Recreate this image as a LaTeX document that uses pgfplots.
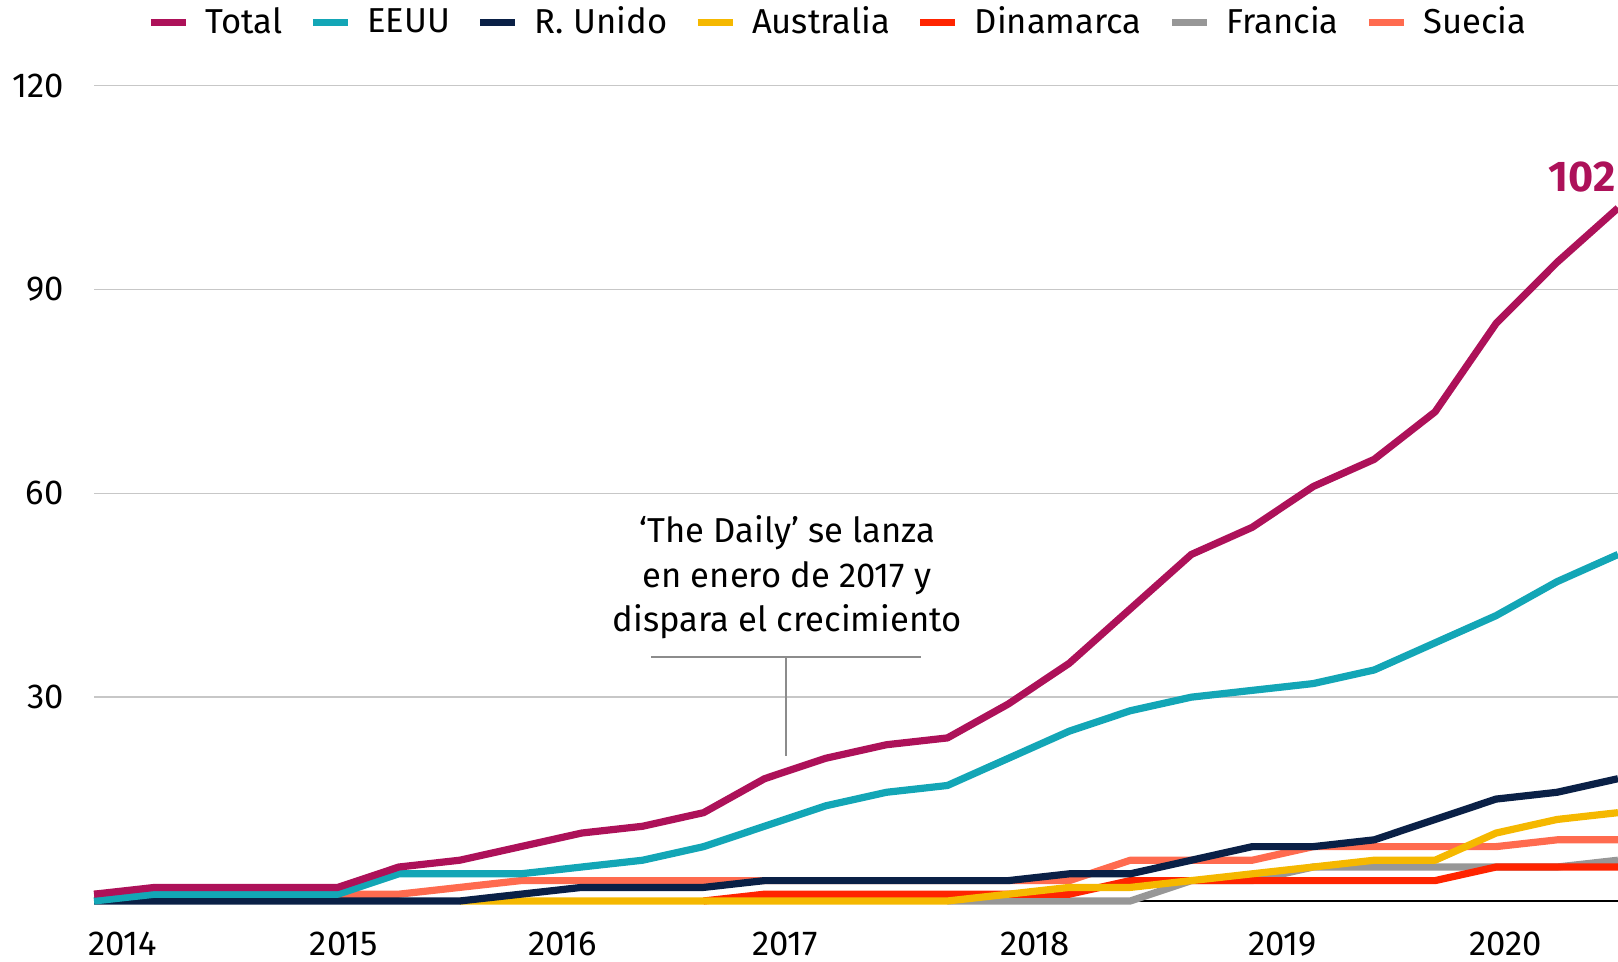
\documentclass[border=0pt]{standalone}
\usepackage{fontspec}
\setmainfont{Fira Sans}
\usepackage{pgfplots}
\pgfplotsset{compat=1.18}
\definecolor{cTotal}{HTML}{AD1159}
\definecolor{cUS}{HTML}{13A6B6}
\definecolor{cUK}{HTML}{0A2046}
\definecolor{cAU}{HTML}{F5B800}
\definecolor{cDK}{HTML}{FF2400}
\definecolor{cFR}{HTML}{979797}
\definecolor{cSE}{HTML}{FF6B4F}
\pgfplotstableread{
i Total EEUU RUnido Suecia
0 1 0 0 1
1 2 1 0 1
2 2 1 0 1
3 2 1 0 1
4 2 1 0 1
5 5 4 0 1
6 6 4 0 2
7 8 4 1 3
8 10 5 2 3
9 11 6 2 3
10 13 8 2 3
11 18 11 3 3
12 21 14 3 3
13 23 16 3 3
14 24 17 3 3
15 29 21 3 3
16 35 25 4 3
17 43 28 4 6
18 51 30 6 6
19 55 31 8 6
20 61 32 8 8
21 65 34 9 8
22 72 38 12 8
23 85 42 15 8
24 94 47 16 9
25 102 51 18 9
}\dataA
\pgfplotstableread{
i Australia
6 0
7 0
8 0
9 0
10 0
11 0
12 0
13 0
14 0
15 1
16 2
17 2
18 3
19 4
20 5
21 6
22 6
23 10
24 12
25 13
}\dataAU
\pgfplotstableread{
i Dinamarca
10 0
11 1
12 1
13 1
14 1
15 1
16 1
17 3
18 3
19 3
20 3
21 3
22 3
23 5
24 5
25 5
}\dataDK
\pgfplotstableread{
i Francia
14 0
15 0
16 0
17 0
18 3
19 3
20 5
21 5
22 5
23 5
24 5
25 6
}\dataFR
\begin{document}
\fontsize{17.3}{21}\selectfont
\begin{tikzpicture}
\useasboundingbox (0,0) rectangle (809pt,481pt);
\begin{axis}[
  at={(47pt,30.5pt)}, anchor=south west,
  scale only axis, width=762pt, height=407.65pt,
  xmin=0, xmax=25, ymin=0, ymax=120,
  clip=false,
  axis line style={draw=none},
  major tick length=0pt,
  ytick={30,60,90,120},
  ymajorgrids, grid style={color=black!22, line width=0.7pt},
  xtick={0.47,4.10,7.69,11.34,15.44,19.50,23.15},
  xticklabels={2014,2015,2016,2017,2018,2019,2020},
  /pgf/number format/assume math mode=true,
  tick label style={font=\fontsize{17.3}{21}\selectfont},
  yticklabel style={anchor=east, inner sep=0pt, xshift=-15pt},
  xticklabel style={anchor=base, inner sep=0pt, yshift=-27.2pt},
  legend columns=-1,
  legend image code/.code={\draw[#1, line width=3.5pt] (0pt,0pt) -- (17.5pt,0pt);},
  legend style={at={(0.4875,1.077)}, anchor=center, draw=none, fill=none,
    font=\fontsize{17.3}{21}\selectfont, inner sep=0pt,
    nodes={inner sep=0pt},
    /tikz/every odd column/.append style={column sep=8pt},
    /tikz/every even column/.append style={column sep=13.4pt}},
  every axis plot/.append style={line width=3.6pt, line join=round},
]
\addlegendimage{cTotal}\addlegendentry{Total}
\addlegendimage{cUS}\addlegendentry{EEUU}
\addlegendimage{cUK}\addlegendentry{R. Unido}
\addlegendimage{cAU}\addlegendentry{Australia}
\addlegendimage{cDK}\addlegendentry{Dinamarca}
\addlegendimage{cFR}\addlegendentry{Francia}
\addlegendimage{cSE}\addlegendentry{Suecia}
\draw[black, line width=0.9pt] (axis cs:0,0) -- (axis cs:25,0);
\addplot[cSE, forget plot] table[x=i, y=Suecia] {\dataA};
\addplot[cFR, forget plot] table[x=i, y=Francia] {\dataFR};
\addplot[cDK, forget plot] table[x=i, y=Dinamarca] {\dataDK};
\addplot[cAU, forget plot] table[x=i, y=Australia] {\dataAU};
\addplot[cUK, forget plot] table[x=i, y=RUnido] {\dataA};
\addplot[cUS, forget plot] table[x=i, y=EEUU] {\dataA};
\addplot[cTotal, forget plot] table[x=i, y=Total] {\dataA};
\draw[black!45, line width=0.9pt] (axis cs:9.14,35.9) -- (axis cs:13.57,35.9);
\draw[black!45, line width=0.9pt] (axis cs:11.35,35.9) -- (axis cs:11.35,21.4);
\node[align=center, font=\fontsize{17.3}{22.2}\selectfont, inner sep=0pt] at (axis cs:11.37,47.6) {‘The Daily’ se lanza\\en enero de 2017 y\\dispara el crecimiento};
\node[anchor=east, inner sep=0pt, text=cTotal, font=\bfseries\fontsize{21.5}{24}\selectfont] at (axis cs:24.97,106.6) {102};
\end{axis}
\end{tikzpicture}
\end{document}
